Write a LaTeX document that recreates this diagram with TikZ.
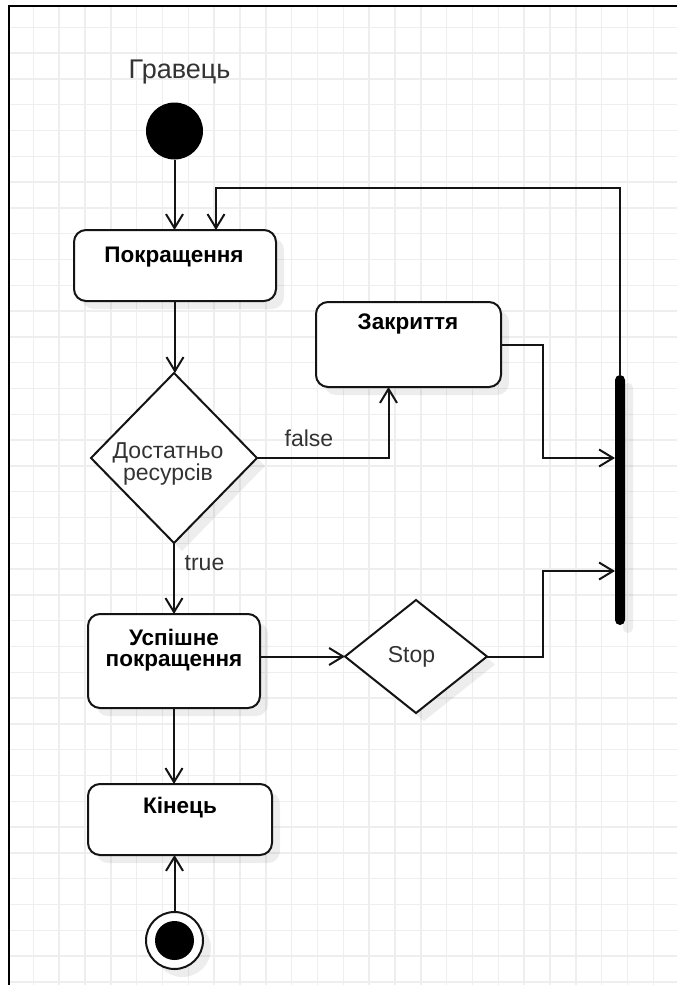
\documentclass[tikz,border=0pt]{standalone}
\usepackage{fontspec}
\setmainfont{Liberation Sans}
\usetikzlibrary{arrows.meta,shapes.geometric,shadows}

\definecolor{gridgray}{HTML}{EEEEEE}
\definecolor{ink}{HTML}{141414}
\definecolor{labelgray}{HTML}{333333}

\begin{document}
\begin{tikzpicture}[x=1pt,y=-1pt,
  every node/.style={inner sep=0pt, outer sep=0pt},
  gridline/.style={draw=gridgray, line width=1.5pt},
  framepen/.style={draw=black, line width=2.5pt},
  softshadow/.style={drop shadow={shadow xshift=8pt, shadow yshift=-8pt, fill=black, opacity=0.07}},
  actbox/.style={rectangle, draw=ink, line width=2pt, rounded corners=12pt, fill=white, softshadow},
  decision/.style={diamond, draw=ink, line width=2pt, fill=white, softshadow},
  boxtext/.style={font=\fontsize{22.5}{21}\selectfont\bfseries, text=black, align=center},
  labeltext/.style={font=\fontsize{23}{22}\selectfont, text=labelgray, align=center},
  flow/.style={draw=ink, line width=2pt, -{Straight Barb[length=14pt,width=17pt]}}
]
\useasboundingbox (0,0) rectangle (677,985);

% background grid inside the frame
\begin{scope}
  \clip (9,6) rectangle (677,985);
  \foreach \i in {0,...,26} \draw[gridline] ({7.5+25.83*\i},6) -- ({7.5+25.83*\i},985);
  \foreach \j in {0,...,38} \draw[gridline] (9,{1.5+25.8*\j}) -- (677,{1.5+25.8*\j});
\end{scope}
\draw[framepen] (9,985) -- (9,6) -- (677,6);

% swimlane title
\node[font=\fontsize{27}{32}\selectfont, text=labelgray, anchor=base] (title) at (179.5,78) {Гравець};

% initial and final states
\node[circle, fill=black, minimum size=57pt] (start) at (174.5,131) {};
\node[circle, draw=ink, line width=2pt, fill=white, minimum size=57pt, softshadow] (finish) at (174.5,940.5) {};
\fill[black] (finish.center) circle (19.5);

% actions
\node[actbox, minimum width=202pt, minimum height=71pt] (upgrade) at (175,265.5) {};
\node[boxtext, anchor=base] at (174,262) {Покращення};

\node[actbox, minimum width=185pt, minimum height=85pt] (closing) at (408.5,344.5) {};
\node[boxtext, anchor=base] at (408,329) {Закриття};

\node[actbox, minimum width=172pt, minimum height=94pt] (success) at (174,661) {};
\node[boxtext, anchor=base] at (174,666) {Успішне\\покращення};

\node[actbox, minimum width=184pt, minimum height=71pt] (theend) at (180,819.5) {};
\node[boxtext, anchor=base] at (180,813) {Кінець};

% decisions
\node[decision, minimum width=166pt, minimum height=170pt] (enough) at (174,458) {};
\node[labeltext, anchor=base] at (168,480) {Достатньо\\ресурсів};

\node[decision, minimum width=142pt, minimum height=113pt] (stop) at (416,656.5) {};
\node[labeltext, anchor=base] at (411.5,662) {Stop};

% join bar
\node[rectangle, fill=black, rounded corners=5pt, minimum width=10pt, minimum height=250pt, softshadow] (bar) at (620,500) {};

% transitions
\draw[flow] (start.south) -- (start.south |- upgrade.north);
\draw[flow] (bar.north) -- ++(0,-187) -| ([xshift=41pt]upgrade.north);
\draw[flow] (upgrade.south) -- (upgrade.south |- enough.north);
\draw[flow] (enough.east) -| ([xshift=-20pt]closing.south);
\node[labeltext, anchor=base] at (309,446.5) {false};
\draw[flow] (closing.east) -- ++(42,0) |- ([yshift=42pt]bar.west);
\draw[flow] (enough.south) -- (enough.south |- success.north);
\node[labeltext, anchor=base] at (204.5,570.5) {true};
\draw[flow] (success.east |- stop.west) -- (stop.west);
\draw[flow] (stop.east) -- ++(56,0) |- ([yshift=-71pt]bar.west);
\draw[flow] (success.south) -- (success.south |- theend.north);
\draw[flow] (finish.north) -- (finish.north |- theend.south);
\end{tikzpicture}
\end{document}
